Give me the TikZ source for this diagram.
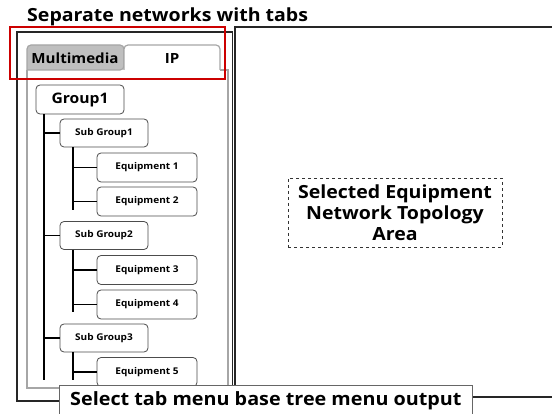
\documentclass[tikz,border=0pt]{standalone}
\usepackage{fontspec}
\setmainfont{Open Sans}[FakeStretch=1.08]
\begin{document}
\begin{tikzpicture}[x=1pt,y=-1pt,
  frame/.style={draw=black!85, line width=1.8pt},
  tabline/.style={draw=black!35, line width=1.2pt},
  treeline/.style={draw=black, line width=1.6pt},
  box/.style={draw=black!70, line width=0.8pt, rounded corners=4pt, fill=white, inner sep=0pt},
  grpbox/.style={box, minimum width=88pt, minimum height=29pt, font=\bfseries\fontsize{14.5}{16}\selectfont},
  subbox/.style={box, minimum width=88pt, minimum height=28pt, font=\bfseries\fontsize{9.3}{10}\selectfont},
  eqbox/.style={box, minimum width=100pt, minimum height=29pt, font=\bfseries\fontsize{9.3}{11}\selectfont},
  tabtext/.style={inner sep=0pt, font=\bfseries\fontsize{14}{16}\selectfont},
  headline/.style={inner sep=0pt, font=\bfseries\fontsize{18.1}{20}\selectfont}]
\useasboundingbox (0,0) rectangle (552,414);

% title
\node[headline, anchor=base west] (title) at (27,22) {Separate networks with tabs};

% outer frames: tree panel and topology panel
\draw[frame] (17,32) rectangle (232.5,401);
\draw[frame] (235,27) rectangle (600,397);

% tab panel
\draw[tabline] (220,70) -- (228,70) -- (228,388) -- (27,388) -- (27,70);
\draw[tabline, fill=black!25, rounded corners=4pt] (27,70) -- (27,45) -- (124,45) -- (124,70) [sharp corners]-- cycle;
\draw[tabline, fill=white, rounded corners=4pt] (124,70) -- (124,45) -- (220,45) -- (220,70);
\node[tabtext, anchor=base] (tabmm) at (75,64) {Multimedia};
\node[tabtext, anchor=base] (tabip) at (172,64) {IP};

% highlight around the tabs
\draw[draw=red!80!black, line width=1.3pt] (10,27) rectangle (225,79);

% tree
\node[grpbox] (g1) at (80,99.5) {Group1};
\node[subbox] (sg1) at (104,133) {Sub Group1};
\node[subbox] (sg2) at (104,235.5) {Sub Group2};
\node[subbox] (sg3) at (104,338) {Sub Group3};
\node[eqbox] (e1) at (147,167.5) {Equipment 1};
\node[eqbox] (e2) at (147,201.5) {Equipment 2};
\node[eqbox] (e3) at (147,270) {Equipment 3};
\node[eqbox] (e4) at (147,304.5) {Equipment 4};
\node[eqbox] (e5) at (147,372) {Equipment 5};

\coordinate (tx) at (44,0);
\coordinate (sx) at (73,0);
\coordinate (trunkend) at (44,380);
\coordinate (s1end) at (73,210);
\coordinate (s2end) at (73,312);
\coordinate (s3end) at (73,380);

\draw[treeline] (g1.south -| tx) -- (trunkend);
\foreach \s in {sg1,sg2,sg3} \draw[treeline] (\s.west -| tx) -- (\s.west);
\draw[treeline] (sg1.south -| sx) -- (s1end);
\draw[treeline] (sg2.south -| sx) -- (s2end);
\draw[treeline] (sg3.south -| sx) -- (s3end);
\foreach \e in {e1,e2,e3,e4,e5} \draw[treeline] (\e.west -| sx) -- (\e.west);

% topology area
\node[draw=black!80, dashed, line width=0.7pt, minimum width=214pt, minimum height=69pt, inner sep=0pt,
  align=center, font=\bfseries\fontsize{18.1}{21}\selectfont] (topo) at (395,212.5)
  {\raisebox{-2pt}{Selected Equipment}\\\raisebox{-2pt}{Network Topology}\\\raisebox{-2pt}{Area}};

% caption
\node[draw=black!60, line width=0.8pt, fill=white, anchor=north west, minimum width=413pt, minimum height=30pt,
  inner sep=0pt, font=\bfseries\fontsize{18.3}{22}\selectfont] (caption) at (59,385)
  {Select tab menu base tree menu output};
\end{tikzpicture}
\end{document}
